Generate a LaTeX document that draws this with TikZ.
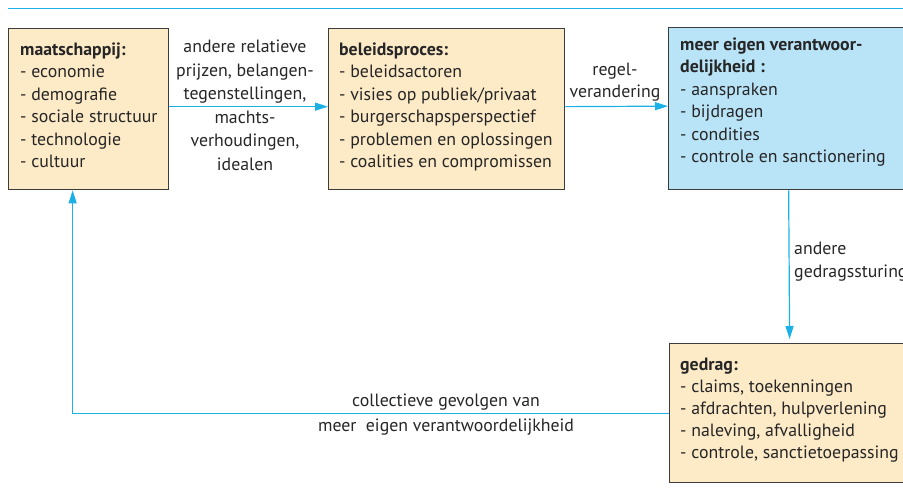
\documentclass[tikz,border=0pt]{standalone}
\usepackage{fontspec}
\setmainfont{PT Sans}
\usetikzlibrary{arrows.meta}
\definecolor{lijn}{RGB}{27,177,231}
\definecolor{beige}{RGB}{253,234,199}
\definecolor{lichtblauw}{RGB}{185,227,247}
\definecolor{rand}{RGB}{60,60,60}
\tikzset{
  blok/.style={draw=rand, line width=1.3pt, rectangle, inner sep=0pt, anchor=north west},
  tekst/.style={anchor=base west, align=left, inner sep=0pt, text=black!85,
    font=\fontsize{17.8}{22.5}\selectfont},
  uitleg/.style={anchor=base, align=center, inner sep=0pt, text=black!85,
    font=\fontsize{17.8}{23.5}\selectfont},
  pijl/.style={draw=lijn, line width=1.2pt, -{Triangle[length=13pt,width=8pt]}}
}
\begin{document}
\begin{tikzpicture}[x=1pt,y=-1pt]
  \useasboundingbox (0,0) rectangle (903,498);
  \draw [lijn, line width=1pt] (8,8) -- (910,8);
  % blokken
  \node [blok, fill=beige, minimum width=160pt, minimum height=161pt] (maat) at (8,28) {};
  \node [blok, fill=beige, minimum width=236pt, minimum height=161pt] (beleid) at (328,28) {};
  \node [blok, fill=lichtblauw, minimum width=240pt, minimum height=162pt] (verant) at (668,27) {};
  \node [blok, fill=beige, minimum width=240pt, minimum height=139pt] (gedrag) at (669,343) {};
  % teksten in de blokken (ankers op de laatste regel)
  \node [tekst] (maattxt) at (20,167.5) {\textbf{maatschappij:}\\- economie\\- demografie\\- sociale structuur\\- technologie\\- cultuur};
  \node [tekst] (beleidtxt) at (339,167.5) {\textbf{beleidsproces:}\\- beleidsactoren\\- visies op publiek/privaat\\- burgerschapsperspectief\\- problemen en oplossingen\\- coalities en compromissen};
  \node [tekst] (veranttxt) at (680,162.5) {\textbf{meer eigen verantwoor-}\\\textbf{delijkheid :}\\- aanspraken\\- bijdragen\\- condities\\- controle en sanctionering};
  \node [tekst, font=\fontsize{17.8}{22}\selectfont] (gedragtxt) at (680,458) {\textbf{gedrag:}\\- claims, toekenningen\\- afdrachten, hulpverlening\\- naleving, afvalligheid\\- controle, sanctietoepassing};
  % pijlen
  \draw [pijl] ([yshift=2.5pt]maat.east) -- ([yshift=2.5pt]beleid.west);
  \draw [pijl] ([yshift=2.5pt]beleid.east) -- ([yshift=2.5pt]verant.west);
  \draw [pijl, shorten >=4pt] (verant.south) -- (gedrag.north);
  \draw [pijl] (gedrag.west) -| ([xshift=-16pt]maat.south);
  % bijschriften
  \node [uitleg] (prijzen) at (245,170) {andere relatieve\\prijzen, belangen-\\tegenstellingen,\\machts-\\verhoudingen,\\idealen};
  \node [uitleg, font=\fontsize{17.8}{22.5}\selectfont] (regel) at (615,97.5) {regel-\\verandering};
  \node [uitleg, anchor=base west, align=left, font=\fontsize{17.8}{22.5}\selectfont] (sturing) at (794,277) {andere\\gedragssturing};
  \node [uitleg] (gevolgen) at (446,406) {collectieve gevolgen van};
  \node [uitleg] (meer) at (446,431) {meer\ \ eigen verantwoordelijkheid};
\end{tikzpicture}
\end{document}
